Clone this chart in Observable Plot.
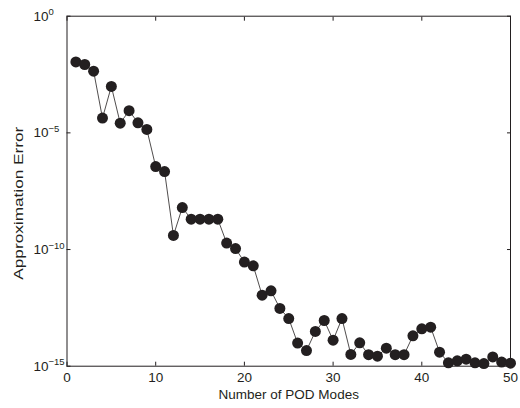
<!DOCTYPE html>
<html>
<head>
<meta charset="utf-8">
<script src="https://cdn.jsdelivr.net/npm/d3@7"></script>
<script src="https://cdn.jsdelivr.net/npm/@observablehq/plot@0.6"></script>
<style>
  html, body { margin: 0; padding: 0; background: #fff; }
  svg { display: block; }
</style>
</head>
<body>
<div id="chart"></div>
<script>
// Number of POD modes
const modes = [1,2,3,4,5,6,7,8,9,10,11,12,13,14,15,16,17,18,19,20,21,22,23,24,25,
               26,27,28,29,30,31,32,33,34,35,36,37,38,39,40,41,42,43,44,45,46,47,48,49,50];
// Approximation error
const errors = [1.1e-2, 8.5e-3, 4.4e-3, 4.3e-5, 9.8e-4, 2.6e-5, 8.9e-5, 2.7e-5, 1.4e-5, 3.6e-7,
                2.2e-7, 4.0e-10, 6.3e-9, 2.0e-9, 2.0e-9, 2.0e-9, 2.0e-9, 1.9e-10, 1.1e-10, 2.9e-11,
                2.0e-11, 1.1e-12, 1.7e-12, 3.0e-13, 1.1e-13, 9.8e-15, 4.7e-15, 3.1e-14, 9.1e-14, 1.3e-14,
                1.1e-13, 3.2e-15, 1.0e-14, 3.1e-15, 2.7e-15, 5.9e-15, 3.1e-15, 3.1e-15, 2.0e-14, 4.0e-14,
                4.7e-14, 4.0e-15, 1.4e-15, 1.7e-15, 2.0e-15, 1.4e-15, 1.3e-15, 2.5e-15, 1.5e-15, 1.35e-15];
const xTicks = [0, 10, 20, 30, 40, 50];
const yTicks = [1, 1e-5, 1e-10, 1e-15];
const yTickExps = ["0", "\u22125", "\u221210", "\u221215"];
const xLabel = "Number of POD Modes";
const yLabel = "Approximation Error";

const data = modes.map((m, i) => ({mode: m, error: errors[i]}));

const ink = "#231f20";

const chart = Plot.plot({
  width: 520,
  height: 408,
  marginLeft: 66.5,
  marginRight: 10,
  marginTop: 15.7,
  marginBottom: 42.3,
  style: {fontFamily: "'Liberation Sans', Arial, sans-serif", fontSize: "13.5px", color: ink, background: "#fff"},
  x: {domain: [0, 50]},
  y: {type: "log", domain: [1e-15, 1]},
  marks: [
    // inward ticks, bottom / top
    Plot.axisX({anchor: "bottom", ticks: xTicks, tickSize: -4, tickPadding: 10, label: null, stroke: ink}),
    Plot.axisX({anchor: "top", ticks: xTicks, tickSize: -4, text: null, label: null, stroke: ink}),
    // inward ticks, left / right
    Plot.axisY({anchor: "left", ticks: yTicks, tickSize: -4, text: null, label: null, stroke: ink}),
    Plot.axisY({anchor: "right", ticks: yTicks, tickSize: -4, text: null, label: null, stroke: ink}),
    // y tick labels, left-aligned like the original
    Plot.axisY({anchor: "left", ticks: yTicks, tickSize: 0, tickPadding: 33.5, textAnchor: "start",
                tickFormat: (d) => "10^" + yTickExps[yTicks.indexOf(d)], label: null}),
    Plot.frame({stroke: ink, strokeWidth: 1}),
    Plot.line(data, {x: "mode", y: "error", stroke: ink, strokeWidth: 0.8}),
    Plot.dot(data, {x: "mode", y: "error", r: 5.5, fill: ink, stroke: "none"}),
    Plot.text([xLabel], {frameAnchor: "bottom", dy: 28, lineAnchor: "middle", fill: ink}),
    Plot.text([yLabel], {frameAnchor: "left", dx: -48.5, dy: 12, rotate: -90, textAnchor: "middle",
                         lineAnchor: "middle", fill: ink, fontSize: 13.5, ariaLabel: "y-label"})
  ]
});

// turn "10^e" into 10 with a superscript exponent
d3.select(chart).selectAll("text").each(function () {
  const t = this.textContent;
  if (t && t.startsWith("10^")) {
    const exp = t.slice(3);
    const sel = d3.select(this);
    sel.text("10");
    sel.append("tspan").attr("dy", "-0.55em").attr("font-size", "9.5px").text(exp);
  }
  if (t === yLabel) {
    d3.select(this).attr("textLength", 153).attr("lengthAdjust", "spacingAndGlyphs");
  }
});

document.getElementById("chart").appendChild(chart);
</script>
</body>
</html>
